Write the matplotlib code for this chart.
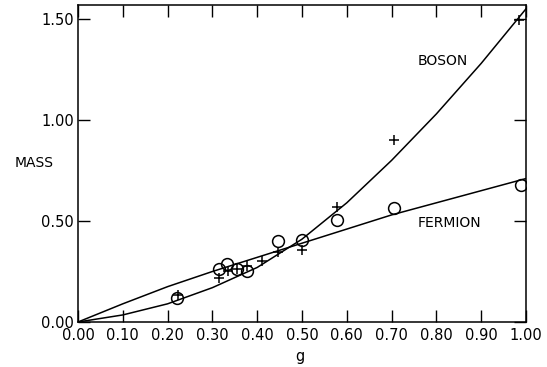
import numpy as np
import matplotlib.pyplot as plt

plt.rcParams['font.family'] = ['DejaVu Sans']

# fitted curves
g_curve = [0.0, 0.1, 0.2, 0.3, 0.4, 0.5, 0.6, 0.7, 0.8, 0.9, 1.0]
boson_curve = [0.0, 0.035, 0.09, 0.17, 0.27, 0.41, 0.59, 0.80, 1.03, 1.28, 1.55]
fermion_curve = [0.0, 0.09, 0.175, 0.25, 0.32, 0.39, 0.46, 0.53, 0.59, 0.65, 0.71]

# measured points
g_boson = [0.223, 0.315, 0.335, 0.354, 0.377, 0.41, 0.446, 0.50, 0.578, 0.705, 0.985]
m_boson = [0.134, 0.218, 0.25, 0.26, 0.277, 0.30, 0.347, 0.356, 0.57, 0.90, 1.495]
g_fermion = [0.22, 0.315, 0.333, 0.354, 0.377, 0.447, 0.50, 0.578, 0.705, 0.989]
m_fermion = [0.119, 0.26, 0.287, 0.26, 0.25, 0.40, 0.405, 0.505, 0.564, 0.68]

xticks = np.round(np.arange(0, 1.01, 0.1), 2)
yticks = [0.0, 0.5, 1.0, 1.5]

fig = plt.figure(figsize=(5.47, 3.67), dpi=100)
ax = fig.add_axes([0.1426, 0.1226, 0.819, 0.8638])

ax.plot(g_curve, boson_curve, color='black', lw=1.1)
ax.plot(g_curve, fermion_curve, color='black', lw=1.1)
ax.plot(g_boson, m_boson, ls='none', marker='+', ms=7, mew=1.1, color='black')
ax.plot(g_fermion, m_fermion, ls='none', marker='o', ms=8.5, mfc='none',
        mec='black', mew=1.1)

ax.set_xlim(0, 1.0)
ax.set_ylim(0, 1.569)
ax.set_xticks(xticks)
ax.set_xticklabels([f'{v:.2f}' for v in xticks])
ax.set_yticks(yticks)
ax.set_yticklabels([f'{v:.2f}' for v in yticks])
ax.tick_params(direction='in', length=8.5, width=1, top=True, right=True,
               labelsize=10.5, pad=4)
ax.tick_params(axis='y', pad=3)

for s in ax.spines.values():
    s.set_linewidth(1.1)

ax.text(0.815, 1.29, 'BOSON', fontsize=10, ha='center', va='center')
ax.text(0.83, 0.49, 'FERMION', fontsize=10, ha='center', va='center')

fig.text(34 / 547, 1 - 163 / 367, 'MASS', fontsize=10, ha='center', va='center')
fig.text(300 / 547, 1 - 357 / 367, 'g', fontsize=10.5, ha='center', va='center')

fig.savefig('out.png', dpi=100)
